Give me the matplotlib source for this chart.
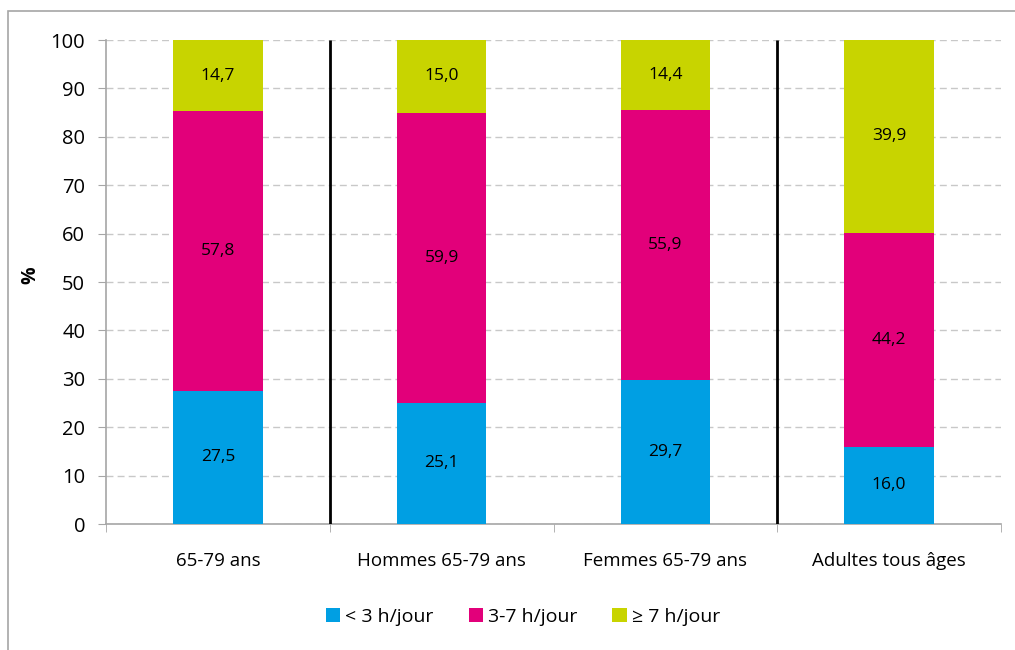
import numpy as np
import matplotlib
matplotlib.use('Agg')
import matplotlib.pyplot as plt
from matplotlib.patches import Rectangle

# data
categories = ["65-79 ans", "Hommes 65-79 ans", "Femmes 65-79 ans", "Adultes tous âges"]
less_3h = [27.5, 25.1, 29.7, 16.0]
h3_7 = [57.8, 59.9, 55.9, 44.2]
more_7h = [14.7, 15.0, 14.4, 39.9]
series_labels = ["< 3 h/jour", "3-7 h/jour", "≥ 7 h/jour"]
colors = ["#009FE3", "#E2007A", "#C8D400"]
yticks = [0, 10, 20, 30, 40, 50, 60, 70, 80, 90, 100]

plt.rcParams['font.family'] = ['Open Sans', 'DejaVu Sans']

W, H = 1015, 650
fig = plt.figure(figsize=(W / 100, H / 100), dpi=100)
ax = fig.add_axes([106 / W, 1 - 524 / H, (1001 - 106) / W, (524 - 40) / H])

# outer frame (right and bottom edges fall outside the picture)
fig.patches.append(Rectangle((8 / W, -0.1), 1.2, 1 - 11 / H + 0.1, transform=fig.transFigure,
                             fill=False, edgecolor='#a6a6a6', linewidth=1.2, zorder=0))

x = np.arange(len(categories))
width = 0.4
bottom = np.zeros(len(categories))
for vals, lab, col in zip([less_3h, h3_7, more_7h], series_labels, colors):
    vals = np.array(vals)
    ax.bar(x, vals, width, bottom=bottom, color=col, label=lab, zorder=3)
    for xi, b, v in zip(x, bottom, vals):
        ax.text(xi, b + v / 2, f"{v:.1f}".replace('.', ','), ha='center', va='center',
                fontsize=12.5, color='black', zorder=4)
    bottom = bottom + vals

# separators between groups
for sx in [0.5, 2.5]:
    ax.plot([sx, sx], [0, 100], color='black', linewidth=2, zorder=4, solid_capstyle='butt')

ax.set_xlim(-0.5, len(categories) - 0.5)
ax.set_ylim(0, 100)
ax.set_yticks(yticks)
ax.set_xticks(x)
ax.set_xticklabels(categories, fontsize=13.5)
ax.set_xticks(np.arange(-0.5, len(categories)), minor=True)
ax.tick_params(axis='x', which='major', length=0, pad=20)
ax.tick_params(axis='x', which='minor', length=6, color='#a6a6a6', direction='out')
ax.tick_params(axis='y', labelsize=14.5, length=6, color='#a6a6a6', direction='out', pad=9)
ax.grid(axis='y', color='#c8c8c8', linestyle=(0, (5, 3)), linewidth=1, zorder=0)

for s in ['top', 'right']:
    ax.spines[s].set_visible(False)
ax.spines['left'].set_color('#a6a6a6')
ax.spines['bottom'].set_color('#a6a6a6')
ax.spines['left'].set_linewidth(1.2)
ax.spines['bottom'].set_linewidth(1.2)

fig.text(30 / W, 1 - 275 / H, "%", rotation=90, fontsize=14, fontweight='bold',
         ha='center', va='center')

fig.legend(loc='center', bbox_to_anchor=(523 / W, 1 - 617 / H), ncol=3, frameon=False,
           fontsize=14, handlelength=0.75, handleheight=0.75, handletextpad=0.25,
           columnspacing=1.8)

fig.savefig("out.png", dpi=100)
